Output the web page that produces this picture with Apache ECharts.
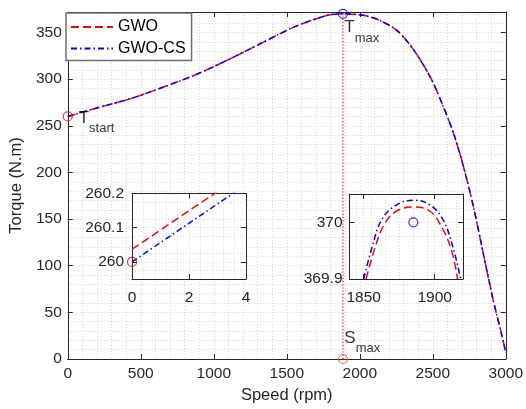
<!DOCTYPE html>
<html>
<head>
<meta charset="utf-8">
<script src="https://cdn.jsdelivr.net/npm/echarts@6/dist/echarts.min.js"></script>
<style>html,body{margin:0;padding:0;background:#fff}#c{width:526px;height:409px}</style>
</head>
<body>
<div id="c"></div>
<script>
// ---- data ----
const speed       = [0, 205, 431, 657, 883, 1108, 1334, 1560, 1786, 1885, 2034, 2147, 2260, 2372, 2485, 2564, 2643, 2711, 2779, 2846, 2914, 2970, 3000];
const torqueGWO   = [260.04, 269.4, 279.1, 291.6, 305.2, 321.5, 339.2, 356.6, 368.7, 370.03, 368.2, 362.3, 351.5, 330.8, 301.6, 273.8, 241.6, 205.9, 163, 113.2, 63.2, 27.5, 7];
const torqueGWOCS = [260.0, 269.4, 279.1, 291.6, 305.2, 321.5, 339.2, 356.6, 368.7, 370.04, 368.2, 362.3, 351.5, 330.8, 301.6, 273.8, 241.6, 205.9, 163, 113.2, 63.2, 27.5, 7];

const tStart = [0, 260];
const tMax   = [1885, 370];
const sMax   = [1885, 0];

// inset 1 (start region)
const in1Speed    = [0, 4];
const in1GWO      = [260.037, 260.262];
const in1GWOCS    = [260.0, 260.226];
const in1XTicks   = [0, 2, 4];
const in1YTicks   = [260, 260.1, 260.2];

// inset 2 (peak region)
const in2SpeedGWO   = [1851.7, 1858.2, 1865.1, 1873.3, 1884.9, 1896.5, 1904.7, 1911.7, 1916.2];
const in2GWO        = [369.9, 369.957, 369.999, 370.020, 370.027, 370.020, 369.993, 369.952, 369.9];
const in2SpeedGWOCS = [1850, 1855.8, 1862.8, 1873.3, 1884.9, 1896.5, 1905.8, 1912.8, 1918.4];
const in2GWOCS      = [369.9, 369.955, 370.005, 370.031, 370.039, 370.031, 370.005, 369.957, 369.9];
const in2XTicks     = [1850, 1900];
const in2YTicks     = [369.9, 370];

// ---- styling ----
const FONT = "'Liberation Sans', Arial, Helvetica, sans-serif";
const AX = '#262626';
const GRIDC = '#d9d9d9';
const RED = '#ff0000', BLUE = '#0000ff', ORANGE = '#d95319';
const DASH = [8, 4], DASHDOT = [6, 3, 1.5, 3];

function zip(a, b) { return a.map((v, i) => [v, b[i]]); }

function axis(kind, o) {
  const main = !o.secondary;
  const a = {
    type: 'value', gridIndex: o.grid, min: o.min, max: o.max, interval: o.interval,
    position: o.position, z: o.z || 0,
    axisLine: { show: true, onZero: false, lineStyle: { color: AX, width: 1 } },
    axisTick: { show: true, inside: true, length: 5, lineStyle: { color: AX, width: 1 } },
    axisLabel: { show: main, color: AX, fontSize: 15.5, fontFamily: FONT, margin: o.margin,
                 showMaxLabel: o.showMax !== false, formatter: v => String(+v.toFixed(4)) },
    splitLine: { show: main, lineStyle: { color: GRIDC, width: 1, type: [1, 2] } },
    minorTick: { show: false, splitNumber: o.minor || 5 },
    minorSplitLine: { show: main && !!o.minor, lineStyle: { color: GRIDC, width: 1, type: [1, 2] } }
  };
  if (o.custom) {
    a.axisTick.customValues = o.custom;
    a.axisLabel.customValues = o.custom;
  }
  return a;
}

const chart = echarts.init(document.getElementById('c'), null, { renderer: 'canvas' });

const subLabel = (letter, sub, pos) => ({
  show: true, position: pos, formatter: '{t|' + letter + '}{s|' + sub + '}',
  rich: {
    t: { fontSize: 17, lineHeight: 19, verticalAlign: 'top', color: '#000', fontFamily: FONT },
    s: { fontSize: 13, lineHeight: 13, padding: [13, 0, 0, 0], verticalAlign: 'top', color: '#000', fontFamily: FONT }
  }
});

const option = {
  animation: false,
  backgroundColor: '#fff',
  textStyle: { fontFamily: FONT },
  grid: [
    { left: 63, right: 20, top: 12, bottom: 50 },
    { left: 132, right: 280, top: 193.5, bottom: 130, show: true, backgroundColor: '#fff', borderWidth: 0, z: 3 },
    { left: 349.5, right: 63, top: 194, bottom: 130, show: true, backgroundColor: '#fff', borderWidth: 0, z: 3 }
  ],
  legend: {
    data: ['GWO', 'GWO-CS'], orient: 'vertical', left: 66, top: 13,
    itemWidth: 42, itemHeight: 14, itemGap: 5.5, padding: [6, 6, 4, 4],
    backgroundColor: '#fff', borderColor: '#6e6e6e', borderWidth: 1.5, borderRadius: 0,
    itemStyle: { opacity: 0 },
    textStyle: { fontSize: 16, color: '#000', fontFamily: FONT, lineHeight: 16 },
    z: 10
  },
  xAxis: [
    Object.assign(axis('x', { grid: 0, min: 0, max: 3000, interval: 500, position: 'bottom', margin: 7, minor: 5 }),
      { name: 'Speed (rpm)', nameLocation: 'middle', nameGap: 27,
        nameTextStyle: { fontSize: 16.5, color: AX, fontFamily: FONT } }),
    axis('x', { grid: 0, min: 0, max: 3000, interval: 500, position: 'top', secondary: true }),
    axis('x', { grid: 1, min: 0, max: 4, interval: 2, position: 'bottom', margin: 11, minor: 5, custom: in1XTicks, z: 4 }),
    axis('x', { grid: 1, min: 0, max: 4, interval: 2, position: 'top', secondary: true, custom: in1XTicks, z: 4 }),
    axis('x', { grid: 2, min: 1840, max: 1920, interval: 10, position: 'bottom', margin: 11, minor: 2, custom: in2XTicks, z: 4 }),
    axis('x', { grid: 2, min: 1840, max: 1920, interval: 10, position: 'top', secondary: true, custom: in2XTicks, z: 4 })
  ],
  yAxis: [
    Object.assign(axis('y', { grid: 0, min: 0, max: 372, interval: 50, position: 'left', margin: 6, minor: 5, showMax: false }),
      { name: 'Torque (N.m)', nameLocation: 'middle', nameGap: 38,
        nameTextStyle: { fontSize: 16.5, color: AX, fontFamily: FONT } }),
    axis('y', { grid: 0, min: 0, max: 372, interval: 50, position: 'right', secondary: true }),
    axis('y', { grid: 1, min: 259.95, max: 260.2, interval: 0.05, position: 'left', margin: 8, minor: 2, custom: in1YTicks, z: 4 }),
    axis('y', { grid: 1, min: 259.95, max: 260.2, interval: 0.05, position: 'right', secondary: true, custom: in1YTicks, z: 4 }),
    axis('y', { grid: 2, min: 369.9, max: 370.05, interval: 0.05, position: 'left', margin: 7, minor: 2, custom: in2YTicks, z: 4 }),
    axis('y', { grid: 2, min: 369.9, max: 370.05, interval: 0.05, position: 'right', secondary: true, custom: in2YTicks, z: 4 })
  ],
  series: [
    { name: 'GWO', type: 'line', xAxisIndex: 0, yAxisIndex: 0, data: zip(speed, torqueGWO),
      symbol: 'none', smooth: 0.3, lineStyle: { color: RED, width: 1.5, type: DASH }, itemStyle: { color: RED }, z: 2 },
    { name: 'GWO-CS', type: 'line', xAxisIndex: 0, yAxisIndex: 0, data: zip(speed, torqueGWOCS),
      symbol: 'none', smooth: 0.3, lineStyle: { color: BLUE, width: 1.5, type: DASHDOT }, itemStyle: { color: BLUE }, z: 2 },
    { name: 'smaxline', type: 'line', xAxisIndex: 0, yAxisIndex: 0, data: [sMax, tMax],
      symbol: 'none', lineStyle: { color: RED, width: 1.2, type: [1.2, 2] }, z: 2, silent: true },
    { name: 'points', type: 'scatter', xAxisIndex: 0, yAxisIndex: 0, symbol: 'circle', symbolSize: 9, z: 3,
      data: [
        { value: tStart, itemStyle: { color: 'rgba(0,0,0,0)', borderColor: RED, borderWidth: 1.2 }, label: subLabel('T', 'start', [16, -2]) },
        { value: tMax, itemStyle: { color: 'rgba(0,0,0,0)', borderColor: BLUE, borderWidth: 1.2 }, label: subLabel('T', 'max', [6.5, 10]) },
        { value: sMax, itemStyle: { color: 'rgba(0,0,0,0)', borderColor: ORANGE, borderWidth: 1.2 }, label: subLabel('S', 'max', [6.5, -24.5]) }
      ] },
    // inset 1
    { name: 'GWO', type: 'line', xAxisIndex: 2, yAxisIndex: 2, data: zip(in1Speed, in1GWO), clip: true,
      symbol: 'none', lineStyle: { color: RED, width: 1.5, type: DASH }, itemStyle: { color: RED }, z: 5 },
    { name: 'GWO-CS', type: 'line', xAxisIndex: 2, yAxisIndex: 2, data: zip(in1Speed, in1GWOCS), clip: true,
      symbol: 'none', lineStyle: { color: BLUE, width: 1.5, type: DASHDOT }, itemStyle: { color: BLUE }, z: 5 },
    { name: 'in1pt', type: 'scatter', xAxisIndex: 2, yAxisIndex: 2, symbol: 'circle', symbolSize: 9, z: 6, clip: false,
      data: [{ value: tStart, itemStyle: { color: 'rgba(0,0,0,0)', borderColor: RED, borderWidth: 1.2 } }] },
    // inset 2
    { name: 'GWO', type: 'line', xAxisIndex: 4, yAxisIndex: 4, data: zip(in2SpeedGWO, in2GWO), clip: true,
      symbol: 'none', smooth: 0.4, lineStyle: { color: RED, width: 1.5, type: DASH }, itemStyle: { color: RED }, z: 5 },
    { name: 'GWO-CS', type: 'line', xAxisIndex: 4, yAxisIndex: 4, data: zip(in2SpeedGWOCS, in2GWOCS), clip: true,
      symbol: 'none', smooth: 0.4, lineStyle: { color: BLUE, width: 1.5, type: DASHDOT }, itemStyle: { color: BLUE }, z: 5 },
    { name: 'in2pt', type: 'scatter', xAxisIndex: 4, yAxisIndex: 4, symbol: 'circle', symbolSize: 9, z: 6,
      data: [{ value: tMax, itemStyle: { color: 'rgba(0,0,0,0)', borderColor: BLUE, borderWidth: 1.2 } }] }
  ]
};
chart.setOption(option);
</script>
</body>
</html>
